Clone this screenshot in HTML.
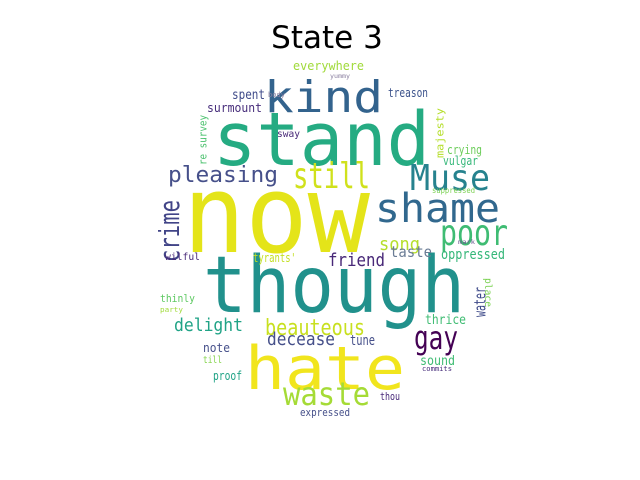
<!DOCTYPE html>
<html><head><meta charset="utf-8"><style>
html,body{margin:0;padding:0;background:#fff}
svg{display:block}
text{font-family:"DejaVu Sans Mono","Liberation Mono",monospace}
</style></head><body>
<svg id="cloud" width="640" height="480" viewBox="0 0 640 480" xmlns="http://www.w3.org/2000/svg">
<text x="327" y="48" text-anchor="middle" font-size="31" style="font-family:'DejaVu Sans','Liberation Sans',sans-serif" fill="#000">State 3</text>
<g id="words"></g>
</svg>
<script>
const words = ["now","though","hate","stand","kind","shame","Muse","poor","still","gay","waste","pleasing","crime","beauteous","delight","friend","decease","song","taste","oppressed","water","tune","thrice","sound","everywhere","spent","surmount","treason","majesty","re survey","crying","vulgar","tyrants'","wilful","thinly","note","till","proof","thou","expressed","place","sway","body","suppressed","party","commits","mark","yummy"];
const xs = [183,203,245,213,264,375,410,440,293,414,283,168,157,265,174,328,267,379,390,441,473,350,425,420,293,232,207,388,435,198,447,443,253,165,160,203,203,213,380,300,483,277,268,432,160,422,458,330];
const ys = [252,312,389,165,112,222,190,245,188,349,405,182,262,335,331,266,345,250,257,259,317,345,324,365,70,99,112,97,158,165,154,165,262,260,302,352,363,380,400,416,278,137,97,193,312,371,244,78];
const sizes = [108,78,60,74,44,40,36,36,36,32,32,22,28,22,18,18,18,18,15,14,16,14,13,13,12,13,12,12,11,11,12,12,12,10,11,12,10,12,11,11,10,10,7,8,7,7,6,6];
const widths = [187,262,160,217,119,125,80,68,77,44,87,110,62,100,69,57,68,41,42,64,30,25,41,35,71,33,55,40,50,50,35,35,43,35,35,27,19,29,20,50,29,23,17,43,23,30,17,20];
const colors = ["#e4e419","#21918c","#f1e51d","#25ab82","#33638d","#31688e","#26828e","#3fbc73","#d0e11c","#440154","#a5db36","#46508a","#414487","#c8e020","#20a386","#482878","#46508a","#b5de2b","#6a7c95","#35b779","#3e4a89","#46508a","#3fbc73","#3fbc73","#a0da39","#3e4a89","#472d7b","#3b528b","#b5de2b","#4ac16d","#6ccd5a","#35b779","#c2df23","#482878","#5ec962","#46508a","#84d44b","#20a386","#482878","#46508a","#7ad151","#482878","#8a7fa0","#7ad151","#a0da39","#472d7b","#6a5a90","#8a7fa0"];
const rots = [0,0,0,0,0,0,0,0,0,0,0,0,-90,0,0,0,0,0,0,0,-90,0,0,0,0,0,0,0,-90,-90,0,0,0,0,0,0,0,0,0,0,90,0,0,0,0,0,0,0];
const NS = "http://www.w3.org/2000/svg";
const g = document.getElementById('words');
for (let i = 0; i < words.length; i++) {
  const t = document.createElementNS(NS, 'text');
  
  
  t.setAttribute('font-size', sizes[i]);
  t.setAttribute('fill', colors[i]);
  t.setAttribute('textLength', widths[i]);
  t.setAttribute('lengthAdjust', 'spacingAndGlyphs');
  t.textContent = words[i];
  if (rots[i] === -90) {
    const cx = xs[i] + sizes[i] * 0.78, cy = ys[i];
    t.setAttribute('x', 0); t.setAttribute('y', 0);
    t.setAttribute('transform', 'translate(' + cx + ',' + cy + ') rotate(-90)');
  } else if (rots[i] === 90) {
    const cx = xs[i] + sizes[i] * 0.22, cy = ys[i];
    t.setAttribute('x', 0); t.setAttribute('y', 0);
    t.setAttribute('transform', 'translate(' + cx + ',' + cy + ') rotate(90)');
  } else {
    t.setAttribute('x', xs[i]);
    t.setAttribute('y', ys[i]);
  }
  g.appendChild(t);
}
</script>
</body></html>
